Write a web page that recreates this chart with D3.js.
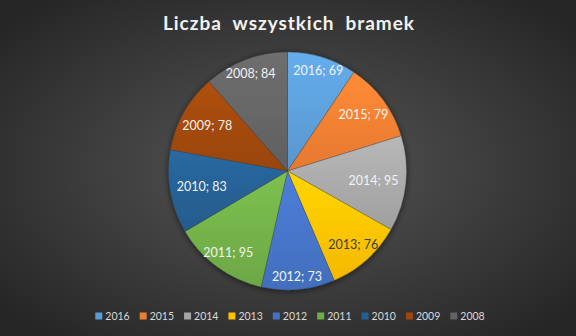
<!DOCTYPE html>
<html><head><meta charset="utf-8">
<script src="https://cdn.jsdelivr.net/npm/d3@7"></script>
<style>html,body{margin:0;padding:0;background:#333;}svg{display:block;}</style>
</head><body>
<svg id="chart" width="576" height="336"></svg>
<script>
const title = "Liczba  wszystkich  bramek";
const years = ["2016","2015","2014","2013","2012","2011","2010","2009","2008"];
const goals = [69, 79, 95, 76, 73, 95, 83, 78, 84];
const colors = ["#5B9BD5","#ED7D31","#A5A5A5","#FFC000","#4472C4","#70AD47","#255E91","#9E480E","#636363"];

const W = 576, H = 336;
const cx = 287.5, cy = 171, R = 119;
const svg = d3.select("#chart");
const defs = svg.append("defs");

const bg = defs.append("radialGradient").attr("id","bg").attr("cx","50%").attr("cy","50%").attr("r","65%");
bg.append("stop").attr("offset","0%").attr("stop-color","#575757");
bg.append("stop").attr("offset","100%").attr("stop-color","#262626");
svg.append("rect").attr("width",W).attr("height",H).attr("fill","url(#bg)");

const sh = defs.append("filter").attr("id","sh").attr("x","-20%").attr("y","-20%").attr("width","140%").attr("height","140%");
sh.append("feGaussianBlur").attr("in","SourceAlpha").attr("stdDeviation",3).attr("result","b");
sh.append("feOffset").attr("in","b").attr("dx",0).attr("dy",1).attr("result","o");
sh.append("feComponentTransfer").attr("in","o").attr("result","o2").append("feFuncA").attr("type","linear").attr("slope",0.6);
const mg = sh.append("feMerge");
mg.append("feMergeNode").attr("in","o2");
mg.append("feMergeNode").attr("in","SourceGraphic");

colors.forEach((c,i)=>{
  const g = defs.append("linearGradient").attr("id","g"+i).attr("x1",0).attr("y1",0).attr("x2",0).attr("y2",1);
  g.append("stop").attr("offset","0%").attr("stop-color", d3.color(c).brighter(0.3).formatHex());
  g.append("stop").attr("offset","100%").attr("stop-color", d3.color(c).darker(0.1).formatHex());
});

svg.append("text").attr("x",288.5).attr("y",30).attr("text-anchor","middle")
  .attr("font-family","Lato, 'Open Sans', sans-serif").attr("font-weight","bold").attr("font-size",19)
  .attr("fill","#f2f2f2").attr("textLength",251).attr("lengthAdjust","spacing")
  .style("white-space","pre").text(title);

const data = years.map((y,i)=>({year:y, value:goals[i], i}));
const pie = d3.pie().value(d=>d.value).sort(null);
const arcs = pie(data);
const arc = d3.arc().innerRadius(0).outerRadius(R);

const pg = svg.append("g").attr("transform",`translate(${cx},${cy})`);
pg.append("g").attr("filter","url(#sh)").selectAll("path").data(arcs).join("path")
  .attr("d",arc).attr("fill",d=>`url(#g${d.data.i})`)
  .attr("stroke","rgba(60,60,60,0.5)").attr("stroke-width",0.6);

const lum = c => { const r = d3.rgb(c); return (0.299*r.r+0.587*r.g+0.114*r.b)/255; };
pg.selectAll("text.lbl").data(arcs).join("text").attr("class","lbl")
  .attr("font-family","Lato, 'Open Sans', sans-serif").attr("font-size",12.5)
  .attr("text-anchor","middle").attr("dy","0.35em")
  .attr("fill",d=> lum(colors[d.data.i])>0.65 ? "#404040" : "#f2f2f2")
  .text(d=>`${d.data.year}; ${d.data.value}`)
  .each(function(d){
    const a = (d.startAngle+d.endAngle)/2;
    const sx = Math.sin(a), sy = -Math.cos(a);
    const w = this.getComputedTextLength();
    const dist = R - 8 - (w/2)*sx*sx - 5*sy*sy + 3*Math.abs(sx*sy);
    d3.select(this).attr("x", sx*dist).attr("y", sy*dist);
  });

const lg = svg.append("g");
let x = 0;
const gap = 10;
data.forEach(d=>{
  const it = lg.append("g").attr("transform",`translate(${x},0)`);
  it.append("rect").attr("x",0).attr("y",-3.5).attr("width",7).attr("height",7).attr("fill",colors[d.i]);
  const t = it.append("text").attr("x",10).attr("dy","0.35em")
    .attr("font-family","Lato, 'Open Sans', sans-serif").attr("font-size",10.5)
    .attr("fill","#d9d9d9").text(d.year);
  x += 10 + t.node().getComputedTextLength() + gap;
});
const totalW = x - gap;
lg.attr("transform",`translate(${290 - totalW/2},316)`);
</script>
</body></html>
